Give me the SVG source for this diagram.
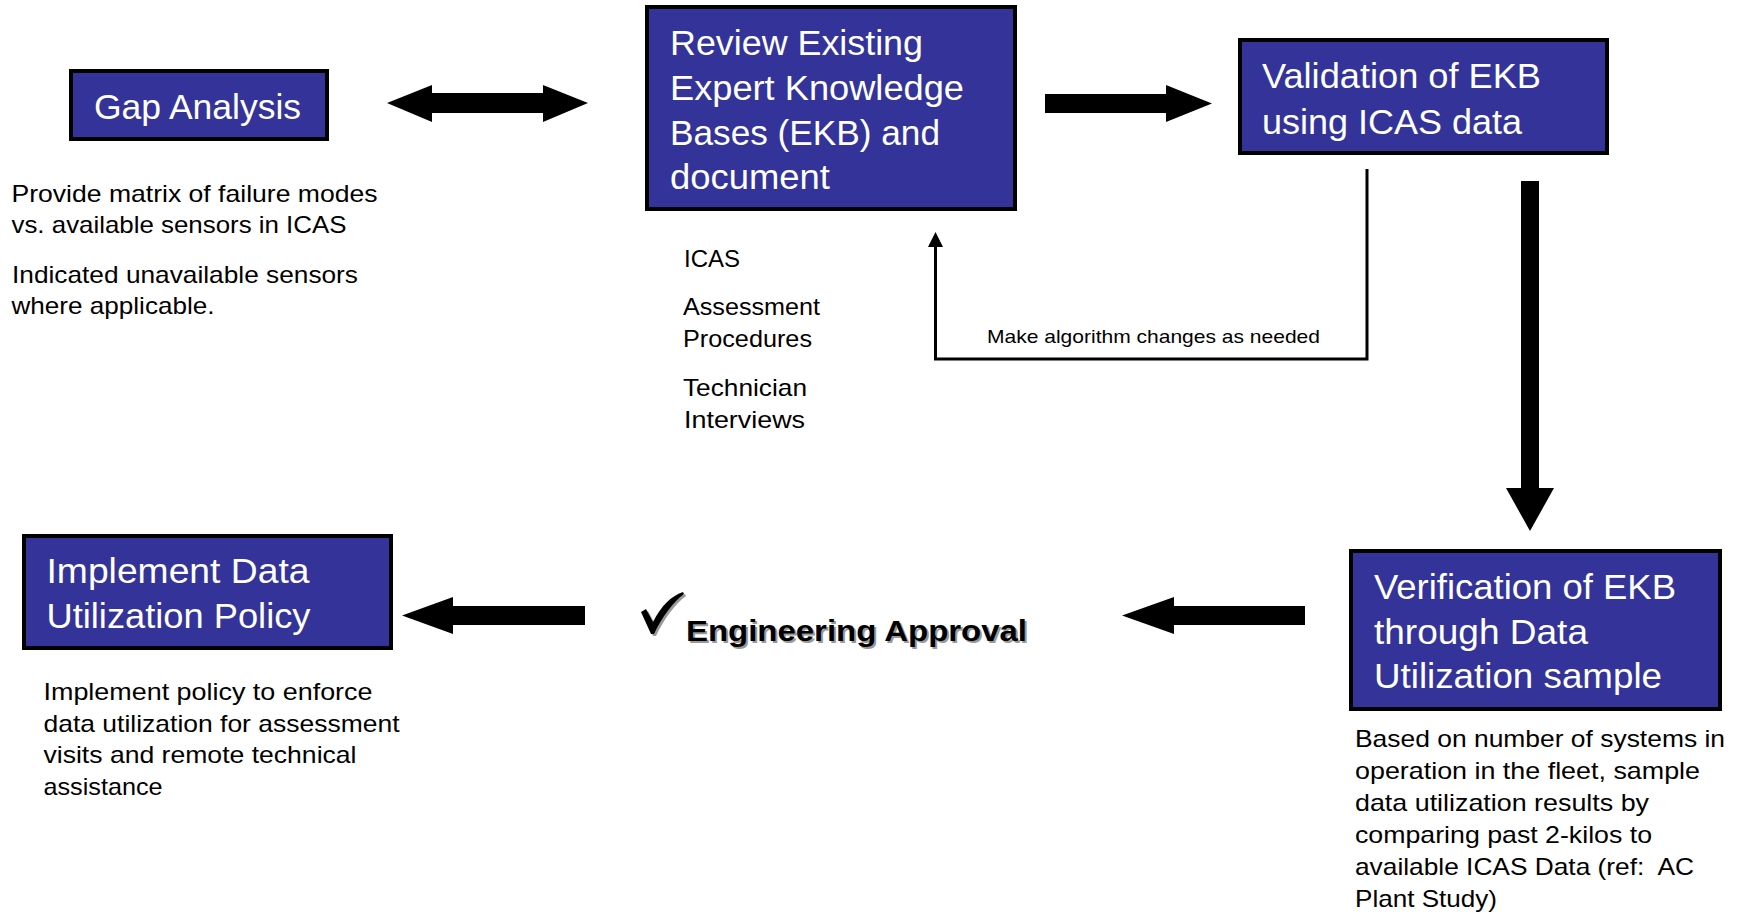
<svg xmlns="http://www.w3.org/2000/svg" width="1744" height="913" viewBox="0 0 1744 913">
<style>
.box{fill:#333399;stroke:#000;stroke-width:4}
.bt{font-family:"Liberation Sans",Arial,sans-serif;font-size:35px;fill:#fff}
.st{font-family:"Liberation Sans",Arial,sans-serif;font-size:24px;fill:#000}
.lbl{font-family:"Liberation Sans",Arial,sans-serif;font-size:19px;fill:#000}
.arr{fill:#000}
.ln{fill:none;stroke:#000;stroke-width:3}
.ea{font-family:"Liberation Sans",Arial,sans-serif;font-size:30px;font-weight:bold}
</style>
<rect width="1744" height="913" fill="#fff"/>
<g id="connectors">
<polygon class="arr" points="387,103 432,85 432,93 543,93 543,85 588,103 543,122 543,113 432,113 432,122"/>
<polygon class="arr" points="1045,94 1166,94 1166,85 1212,103.5 1166,122 1166,113 1045,113"/>
<polygon class="arr" points="1521,181 1539,181 1539,488 1554,488 1530,531 1506,488 1521,488"/>
<polygon class="arr" points="1305,606 1174,606 1174,597 1122,615.5 1174,634 1174,625 1305,625"/>
<polygon class="arr" points="585,606 453,606 453,597 402,615.5 453,634 453,625 585,625"/>
<polyline class="ln" points="1367,169 1367,359 935.5,359 935.5,246"/>
<polygon class="arr" points="928,247 943,247 935.5,232"/>
<text class="lbl" x="987" y="343" textLength="333" lengthAdjust="spacingAndGlyphs">Make algorithm changes as needed</text>
</g>
<g id="gap">
<rect class="box" x="71" y="71" width="256" height="68"/>
<text class="bt" x="94" y="119" textLength="207" lengthAdjust="spacingAndGlyphs">Gap Analysis</text>
<text class="st" x="11.5" y="202" textLength="366" lengthAdjust="spacingAndGlyphs">Provide matrix of failure modes</text>
<text class="st" x="11.5" y="233" textLength="335" lengthAdjust="spacingAndGlyphs">vs. available sensors in ICAS</text>
<text class="st" x="12" y="283" textLength="346" lengthAdjust="spacingAndGlyphs">Indicated unavailable sensors</text>
<text class="st" x="11.5" y="314" textLength="203" lengthAdjust="spacingAndGlyphs">where applicable.</text>
</g>
<g id="review">
<rect class="box" x="647" y="7" width="368" height="202"/>
<text class="bt" x="670" y="55" textLength="253" lengthAdjust="spacingAndGlyphs">Review Existing</text>
<text class="bt" x="670" y="100" textLength="294" lengthAdjust="spacingAndGlyphs">Expert Knowledge</text>
<text class="bt" x="670" y="145" textLength="270" lengthAdjust="spacingAndGlyphs">Bases (EKB) and</text>
<text class="bt" x="670" y="189" textLength="160" lengthAdjust="spacingAndGlyphs">document</text>
<text class="st" x="684" y="267" textLength="56" lengthAdjust="spacingAndGlyphs">ICAS</text>
<text class="st" x="683" y="315" textLength="137" lengthAdjust="spacingAndGlyphs">Assessment</text>
<text class="st" x="683" y="347" textLength="129" lengthAdjust="spacingAndGlyphs">Procedures</text>
<text class="st" x="683" y="396" textLength="124" lengthAdjust="spacingAndGlyphs">Technician</text>
<text class="st" x="684" y="428" textLength="121" lengthAdjust="spacingAndGlyphs">Interviews</text>
</g>
<g id="validation">
<rect class="box" x="1240" y="40" width="367" height="113"/>
<text class="bt" x="1262" y="88" textLength="279" lengthAdjust="spacingAndGlyphs">Validation of EKB</text>
<text class="bt" x="1262" y="134" textLength="260" lengthAdjust="spacingAndGlyphs">using ICAS data</text>
</g>
<g id="verification">
<rect class="box" x="1351" y="551" width="369" height="158"/>
<text class="bt" x="1374" y="599" textLength="302" lengthAdjust="spacingAndGlyphs">Verification of EKB</text>
<text class="bt" x="1374" y="644" textLength="214" lengthAdjust="spacingAndGlyphs">through Data</text>
<text class="bt" x="1374" y="688" textLength="288" lengthAdjust="spacingAndGlyphs">Utilization sample</text>
<text class="st" x="1355" y="747" font-size="23" textLength="370" lengthAdjust="spacingAndGlyphs">Based on number of systems in</text>
<text class="st" x="1355" y="779" font-size="23" textLength="345" lengthAdjust="spacingAndGlyphs">operation in the fleet, sample</text>
<text class="st" x="1355" y="811" font-size="23" textLength="294" lengthAdjust="spacingAndGlyphs">data utilization results by</text>
<text class="st" x="1355" y="843" font-size="23" textLength="297" lengthAdjust="spacingAndGlyphs">comparing past 2-kilos to</text>
<text class="st" x="1355" y="875" font-size="23" textLength="339" lengthAdjust="spacingAndGlyphs" xml:space="preserve">available ICAS Data (ref:  AC</text>
<text class="st" x="1355" y="907" font-size="23" textLength="142" lengthAdjust="spacingAndGlyphs">Plant Study)</text>
</g>
<g id="approval">
<path d="M643,614 L648,611 L655,624 C663,608 673,598 685,594 L686,596 C675,604 664,619 656,636 L653,636 Z" fill="#999"/>
<path d="M641,612 L646,609 L653,622 C661,606 671,596 683,592 L684,594 C673,602 662,617 654,634 L651,634 Z" fill="#000"/>
<text class="ea" x="688" y="643" fill="#999" textLength="341" lengthAdjust="spacingAndGlyphs">Engineering Approval</text>
<text class="ea" x="686" y="641" fill="#000" textLength="341" lengthAdjust="spacingAndGlyphs">Engineering Approval</text>
</g>
<g id="implement">
<rect class="box" x="24" y="536" width="367" height="112"/>
<text class="bt" x="46.5" y="583" textLength="263" lengthAdjust="spacingAndGlyphs">Implement Data</text>
<text class="bt" x="46.5" y="628" textLength="264" lengthAdjust="spacingAndGlyphs">Utilization Policy</text>
<text class="st" x="43.5" y="700" textLength="329" lengthAdjust="spacingAndGlyphs">Implement policy to enforce</text>
<text class="st" x="43.5" y="732" textLength="356" lengthAdjust="spacingAndGlyphs">data utilization for assessment</text>
<text class="st" x="43.5" y="763" textLength="313" lengthAdjust="spacingAndGlyphs">visits and remote technical</text>
<text class="st" x="43.5" y="795" textLength="119" lengthAdjust="spacingAndGlyphs">assistance</text>
</g>
</svg>
